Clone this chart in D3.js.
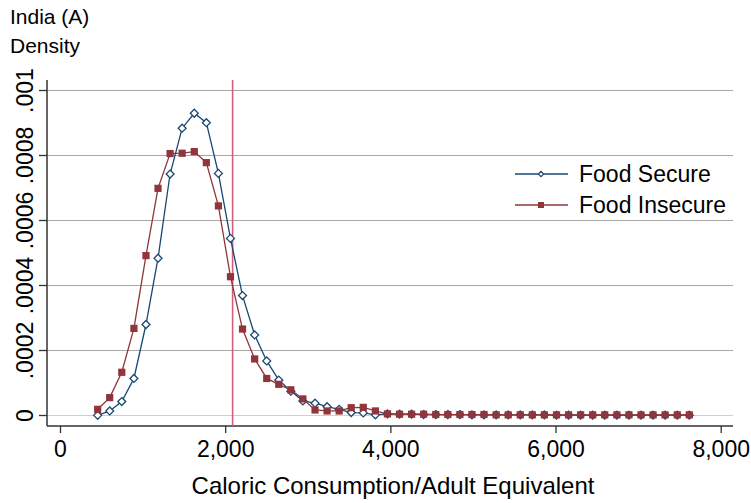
<!DOCTYPE html>
<html>
<head>
<meta charset="utf-8">
<script src="https://cdn.jsdelivr.net/npm/d3@7"></script>
<style>
  body { margin: 0; background: #fff; }
  svg { display: block; font-family: "Liberation Sans", Arial, sans-serif; }
</style>
</head>
<body>
<svg id="chart" width="751" height="503"></svg>
<script>
// calories per adult equivalent (bin midpoints)
const calories = [456, 602, 748, 895, 1041, 1187, 1333, 1479, 1626, 1772,
    1918, 2064, 2210, 2357, 2503, 2649, 2795, 2941, 3088, 3234,
    3380, 3526, 3672, 3819, 3965, 4111, 4257, 4403, 4550, 4696,
    4842, 4988, 5134, 5281, 5427, 5573, 5719, 5865, 6012, 6158,
    6304, 6450, 6596, 6743, 6889, 7035, 7181, 7327, 7474, 7620];

const secure = [0.0000005, 0.000014, 0.000043, 0.000114, 0.00028, 0.000484, 0.000743, 0.000884, 0.00093, 0.000901,
    0.000745, 0.000545, 0.000369, 0.000248, 0.000168, 0.000109, 0.000075, 0.000045, 0.000038, 0.000027,
    0.000019, 0.000009, 0.000008, 0.000002, 0.000005, 0.000004, 0.000004, 0.000003, 0.000003, 0.000003,
    0.000003, 0.000002, 0.000002, 0.000002, 0.000002, 0.000002, 0.000002, 0.000002, 0.000001, 0.000001,
    0.000001, 0.000001, 0.000001, 0.000001, 0.000001, 0.000001, 0.000001, 0.000001, 0.000001, 0.000001];

const insecure = [0.000019, 0.000055, 0.000133, 0.000268, 0.000492, 0.000699, 0.000806, 0.000807, 0.000812, 0.000778,
    0.000645, 0.000427, 0.000266, 0.000174, 0.000114, 0.000096, 0.000079, 0.000051, 0.000017, 0.000014,
    0.000014, 0.000024, 0.000025, 0.000014, 0.000005, 0.000004, 0.000004, 0.000004, 0.000003, 0.000003,
    0.000003, 0.000003, 0.000003, 0.000002, 0.000002, 0.000002, 0.000002, 0.000002, 0.000002, 0.000002,
    0.000002, 0.000002, 0.000002, 0.000002, 0.000002, 0.000002, 0.000002, 0.000002, 0.000002, 0.000002];

const xTicks = [0, 2000, 4000, 6000, 8000];
const yTicks = [0, 0.0002, 0.0004, 0.0006, 0.0008, 0.001];
const cutoff = 2090;   // calorie threshold line

const seriesNames = ['Food Secure', 'Food Insecure'];
const blue = '#1a476f', maroon = '#90353b';

const svg = d3.select('#chart');

const x = d3.scaleLinear().domain([0, 8000]).range([60, 720.7]);
const y = d3.scaleLinear().domain([0, 0.001]).range([415.5, 90.5]);

const frame = {left: 47, right: 733, top: 80, bottom: 426};

//Gridlines.
svg.append('g')
    .selectAll('line')
    .data(yTicks)
    .join('line')
    .attr('x1', frame.left)
    .attr('x2', frame.right)
    .attr('y1', d => y(d))
    .attr('y2', d => y(d))
    .attr('stroke', d => d === 0 ? '#cfcfcf' : '#a8a8a8')
    .attr('stroke-width', 1.2);

//Axes.
const yFmt = d => d === 0 ? '0' : String(+d.toFixed(4)).replace(/^0/, '');

const yAxis = svg.append('g')
    .attr('transform', `translate(${frame.left},0)`)
    .call(d3.axisLeft(y).tickValues(yTicks).tickSize(8).tickFormat(yFmt));
yAxis.select('.domain').remove();
yAxis.selectAll('line').attr('stroke', '#333').attr('stroke-width', 1.3);
yAxis.selectAll('text')
    .attr('x', null).attr('dy', null)
    .attr('transform', d => `translate(-14,${y(d)}) rotate(-90)`)
    .attr('y', 0)
    .attr('text-anchor', 'middle')
    .style('font-size', '23px')
    .attr('fill', '#000');
yAxis.selectAll('.tick').attr('transform', null);
yAxis.selectAll('.tick line').attr('y1', d => y(d)).attr('y2', d => y(d));

const xAxis = svg.append('g')
    .attr('transform', `translate(0,${frame.bottom})`)
    .call(d3.axisBottom(x).tickValues(xTicks).tickSize(7).tickFormat(d3.format(',')));
xAxis.select('.domain').remove();
xAxis.selectAll('line').attr('stroke', '#333').attr('stroke-width', 1.3);
xAxis.selectAll('text')
    .attr('y', 31).attr('dy', null)
    .style('font-size', '23px')
    .attr('fill', '#000');

svg.append('line')
    .attr('x1', frame.left).attr('x2', frame.left)
    .attr('y1', frame.top).attr('y2', frame.bottom)
    .attr('stroke', '#333').attr('stroke-width', 1.5);
svg.append('line')
    .attr('x1', frame.left).attr('x2', frame.right)
    .attr('y1', frame.bottom).attr('y2', frame.bottom)
    .attr('stroke', '#333').attr('stroke-width', 1.5);

//Cutoff line.
svg.append('line')
    .attr('x1', x(cutoff)).attr('x2', x(cutoff))
    .attr('y1', frame.top).attr('y2', frame.bottom)
    .attr('stroke', '#d0607a').attr('stroke-width', 1.6);

//Series.
const line = d3.line().x((d, i) => x(calories[i])).y(d => y(d));
const diamond = d3.symbol().type(d3.symbolDiamond2).size(40);

svg.append('path')
    .datum(secure)
    .attr('d', line)
    .attr('fill', 'none')
    .attr('stroke', blue)
    .attr('stroke-width', 1.3);
svg.append('g')
    .selectAll('path')
    .data(secure)
    .join('path')
    .attr('d', diamond)
    .attr('transform', (d, i) => `translate(${x(calories[i])},${y(d)})`)
    .attr('fill', '#fff')
    .attr('stroke', blue)
    .attr('stroke-width', 1.3);

svg.append('path')
    .datum(insecure)
    .attr('d', line)
    .attr('fill', 'none')
    .attr('stroke', maroon)
    .attr('stroke-width', 1.3);
svg.append('g')
    .selectAll('rect')
    .data(insecure)
    .join('rect')
    .attr('x', (d, i) => x(calories[i]) - 3.6)
    .attr('y', d => y(d) - 3.6)
    .attr('width', 7.2)
    .attr('height', 7.2)
    .attr('fill', maroon);

//Legend.
const legend = svg.append('g');
seriesNames.forEach((name, i) => {
    const ly = 174 + i * 31;
    const col = i === 0 ? blue : maroon;
    legend.append('line')
        .attr('x1', 515).attr('x2', 568)
        .attr('y1', ly).attr('y2', ly)
        .attr('stroke', col).attr('stroke-width', 1.3);
    if (i === 0) {
        legend.append('path')
            .attr('d', d3.symbol().type(d3.symbolDiamond2).size(18)())
            .attr('transform', `translate(541,${ly})`)
            .attr('fill', '#fff').attr('stroke', col).attr('stroke-width', 1.2);
    } else {
        legend.append('rect')
            .attr('x', 538).attr('y', ly - 3).attr('width', 6).attr('height', 6)
            .attr('fill', col);
    }
    legend.append('text')
        .attr('x', 579).attr('y', ly + 8)
        .style('font-size', '23px')
        .text(name);
});

//Titles.
svg.append('text').attr('x', 10).attr('y', 24).style('font-size', '21px').text('India (A)');
svg.append('text').attr('x', 10).attr('y', 53).style('font-size', '21px').text('Density');
svg.append('text')
    .attr('x', 393).attr('y', 494)
    .attr('text-anchor', 'middle')
    .style('font-size', '24px')
    .text('Caloric Consumption/Adult Equivalent');
</script>
</body>
</html>
